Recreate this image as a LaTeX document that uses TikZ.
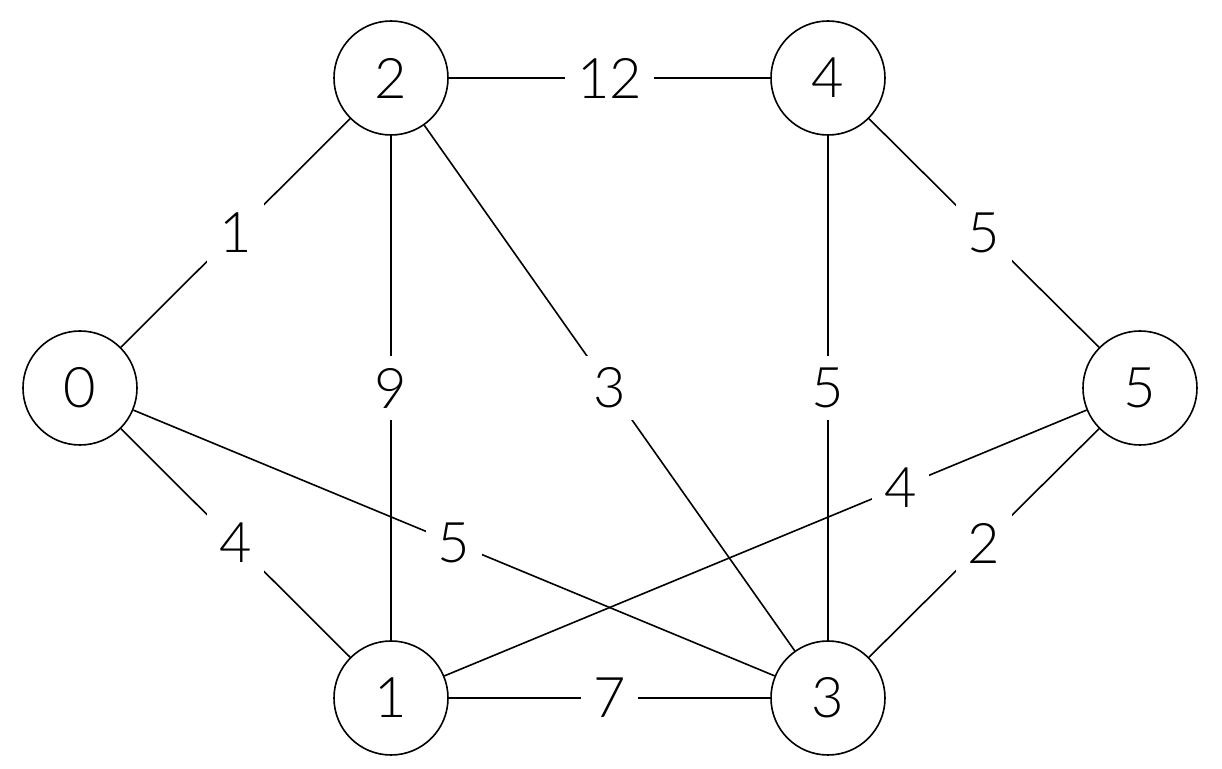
\documentclass[tikz,border=0pt]{standalone}
\usepackage{fontspec}
\setmainfont{Lato}[UprightFont={* Light}]
\begin{document}
\begin{tikzpicture}[x=0.5pt,y=-0.5pt,
  vert/.style={draw,circle,minimum size=57pt,inner sep=0pt,font=\fontsize{28}{28}\selectfont,line width=0.8pt},
  wt/.style={fill=white,inner sep=6pt,font=\fontsize{28}{28}\selectfont},
  edge/.style={line width=0.8pt}]
\useasboundingbox (0,0) rectangle (1222,769);
\node[vert] (n0) at (80,388) {0};
\node[vert] (n2) at (391,78) {2};
\node[vert] (n4) at (828,78) {4};
\node[vert] (n5) at (1140,388) {5};
\node[vert] (n1) at (391,698) {1};
\node[vert] (n3) at (828,698) {3};
\draw[edge] (n0) -- node[wt]{1} (n2);
\draw[edge] (n2) -- node[wt]{12} (n4);
\draw[edge] (n4) -- node[wt]{5} (n5);
\draw[edge] (n2) -- node[wt]{9} (n1);
\draw[edge] (n2) -- node[wt]{3} (n3);
\draw[edge] (n4) -- node[wt]{5} (n3);
\draw[edge] (n0) -- node[wt]{4} (n1);
\draw[edge] (n0) -- node[wt]{5} (n3);
\draw[edge] (n5) -- node[wt,pos=0.29]{4} (n1);
\draw[edge] (n5) -- node[wt]{2} (n3);
\draw[edge] (n1) -- node[wt]{7} (n3);
\end{tikzpicture}
\end{document}
